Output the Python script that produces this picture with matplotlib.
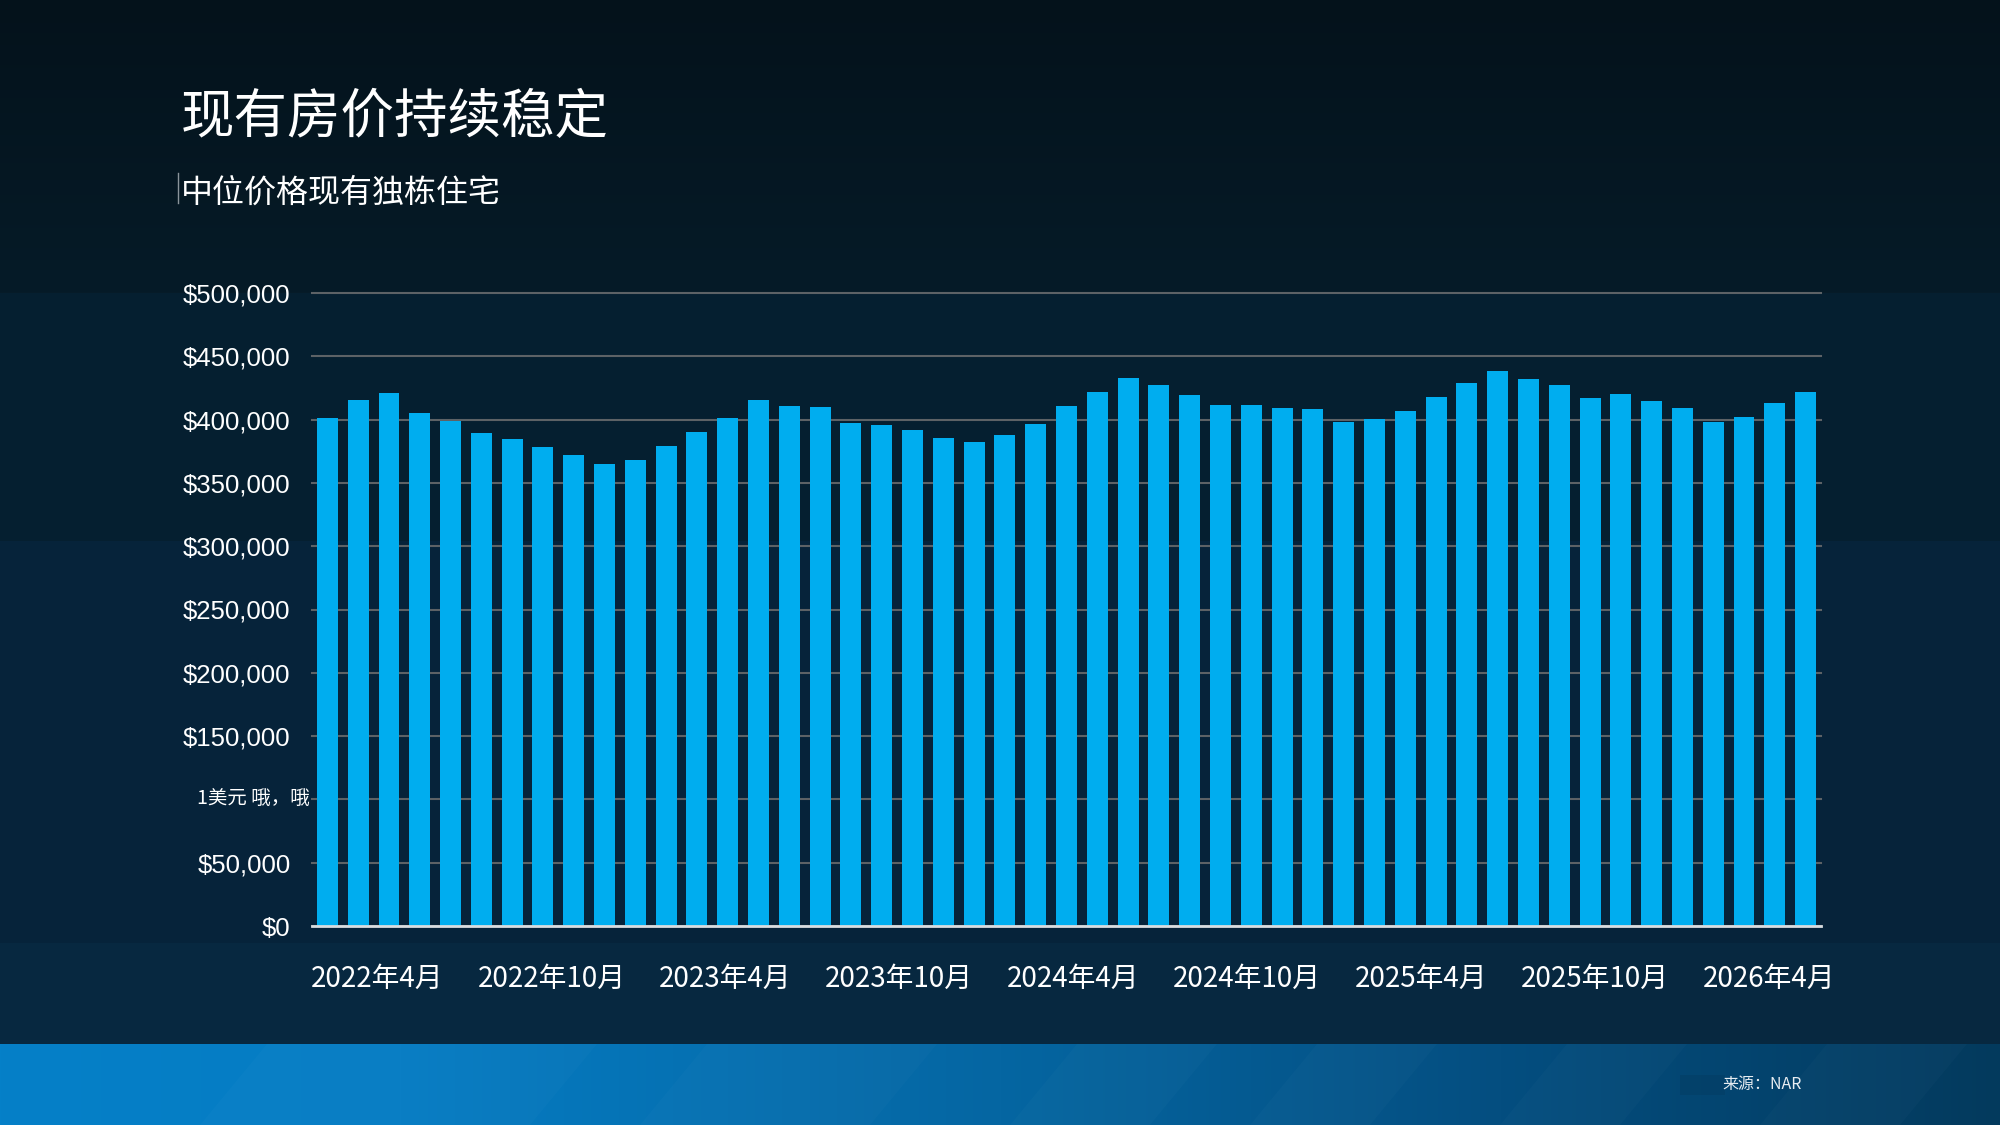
import numpy as np
import pandas as pd
import matplotlib
matplotlib.use('Agg')
import matplotlib.pyplot as plt
from matplotlib.colors import to_rgb
from matplotlib.patches import Polygon, Rectangle
from matplotlib.lines import Line2D

# === 数据 ===
months = pd.date_range('2022-04-01', '2026-04-01', freq='MS')
prices = [401300, 415600, 421200, 405300, 399200, 389400, 384700, 378300,
          372000, 364800, 368000, 379100, 390200, 401300, 415600, 410900,
          410100, 397400, 395800, 391800, 385500, 382300, 387800, 396600,
          410900, 422000, 433100, 427600, 419600, 411700, 411700, 409300,
          408500, 398200, 400600, 406900, 418000, 429100, 438600, 432300,
          427600, 417200, 420400, 414900, 409300, 398200, 402100, 413200,
          422000]
x_tick_labels = ['2022年4月', '2022年10月', '2023年4月', '2023年10月', '2024年4月',
                 '2024年10月', '2025年4月', '2025年10月', '2026年4月']
y_ticks = [0, 50000, 100000, 150000, 200000, 250000, 300000, 350000, 400000, 450000, 500000]
y_tick_labels = ['$0', '$50,000', '1美元 哦，哦', '$150,000', '$200,000', '$250,000',
                 '$300,000', '$350,000', '$400,000', '$450,000', '$500,000']

title = '现有房价持续稳定'
subtitle = '中位价格现有独栋住宅'
source = '来源：NAR'

# === 样式 ===
plt.rcParams['font.family'] = ['Noto Sans CJK SC', 'DejaVu Sans']
BAR_COLOR = '#00adef'
GRID_COLOR = '#5d6266'
W, H = 2000, 1125

fig = plt.figure(figsize=(20, 11.25), dpi=100)

# === 背景 ===
bg = np.zeros((H, W, 3))
rows = np.arange(H)
for c in range(3):
    col = np.interp(rows, [0, 292, 293, 540, 541, 942, 943, 1043],
                    [to_rgb('#04121b')[c], to_rgb('#061b28')[c],
                     to_rgb('#051f30')[c], to_rgb('#051f30')[c],
                     to_rgb('#06233a')[c], to_rgb('#06233a')[c],
                     to_rgb('#072840')[c], to_rgb('#072840')[c]])
    bg[:, :, c] = col[:, None]

# 底部蓝色条
cols = np.arange(W)
stops_x = [0, 400, 1000, 1500, 2000]
stops_c = ['#0580c8', '#067cc3', '#0566a2', '#044e80', '#033a5d']
for c in range(3):
    bg[1044:, :, c] = np.interp(cols, stops_x, [to_rgb(s)[c] for s in stops_c])[None, :]

ax_bg = fig.add_axes([0, 0, 1, 1], zorder=-10)
ax_bg.imshow(bg, extent=[0, W, H, 0], aspect='auto', interpolation='bilinear')
ax_bg.set_xlim(0, W)
ax_bg.set_ylim(H, 0)
ax_bg.axis('off')

# 斜条纹
edges = [200, 530, 640, 870, 1010, 1150, 1250, 1370, 1500, 1620, 1760, 1900, 2050]
for i in range(0, len(edges) - 1, 2):
    x0, x1 = edges[i], edges[i + 1]
    poly = Polygon([(x0, H), (x1, H), (x1 + 67, 1044), (x0 + 67, 1044)],
                   closed=True, facecolor='white', alpha=0.018, edgecolor='none')
    ax_bg.add_patch(poly)
ax_bg.add_patch(Rectangle((1680, 1075), 45, 20, facecolor='#033d63', alpha=0.5, edgecolor='none'))

# === 标题 ===
fig.text(0.0905, 1 - 117 / H, title, fontsize=38.5, color='white', ha='left', va='center')
fig.text(0.0905, 1 - 193 / H, subtitle, fontsize=23, color='white', ha='left', va='center')
fig.add_artist(Line2D([177.6 / W] * 2, [1 - 173 / H, 1 - 203 / H], color='#8a949b', lw=1))
fig.text(1802 / W, 1 - 1085 / H, source, fontsize=11.5, color='#e6ecf1', ha='right', va='center')

# === 柱状图 ===
ax = fig.add_axes([312 / W, 1 - 926 / H, (1821 - 312) / W, (926 - 293) / H])
ax.set_facecolor('none')
x = np.arange(len(months))
ax.bar(x, prices, width=0.68, color=BAR_COLOR, zorder=2)
ax.set_xlim(-0.5, len(months) - 0.5)
ax.set_ylim(0, 500000)

ax.set_yticks(y_ticks, labels=[l if l.startswith('$') else '' for l in y_tick_labels])
ax.yaxis.grid(True, color=GRID_COLOR, lw=1.5)
for gl in ax.get_ygridlines():
    gl.set_clip_on(False)
ax.set_axisbelow(True)
ax.tick_params(axis='y', length=0, pad=15.5, labelsize=18.5, labelcolor='white')
for lab in ax.get_yticklabels():
    lab.set_fontfamily(['Liberation Sans', 'DejaVu Sans'])
for v, l in zip(y_ticks, y_tick_labels):
    if not l.startswith('$'):
        ax.text(-0.0013, v, l, transform=ax.get_yaxis_transform(), ha='right', va='center',
                fontsize=14, color='white', family=['Noto Sans CJK SC', 'DejaVu Sans'])

# 横轴标签位置与原图一致（不与柱子对齐）
x_tick_pos = np.linspace(1.63, 46.81, len(x_tick_labels))
ax.set_xticks(x_tick_pos, labels=x_tick_labels)
ax.tick_params(axis='x', length=0, pad=27, labelsize=20, labelcolor='white')

for side in ['top', 'right', 'left']:
    ax.spines[side].set_visible(False)
ax.spines['bottom'].set_color('#d9dde0')
ax.spines['bottom'].set_linewidth(2)
ax.spines['bottom'].set_zorder(3)

fig.savefig('out.png', dpi=100)
